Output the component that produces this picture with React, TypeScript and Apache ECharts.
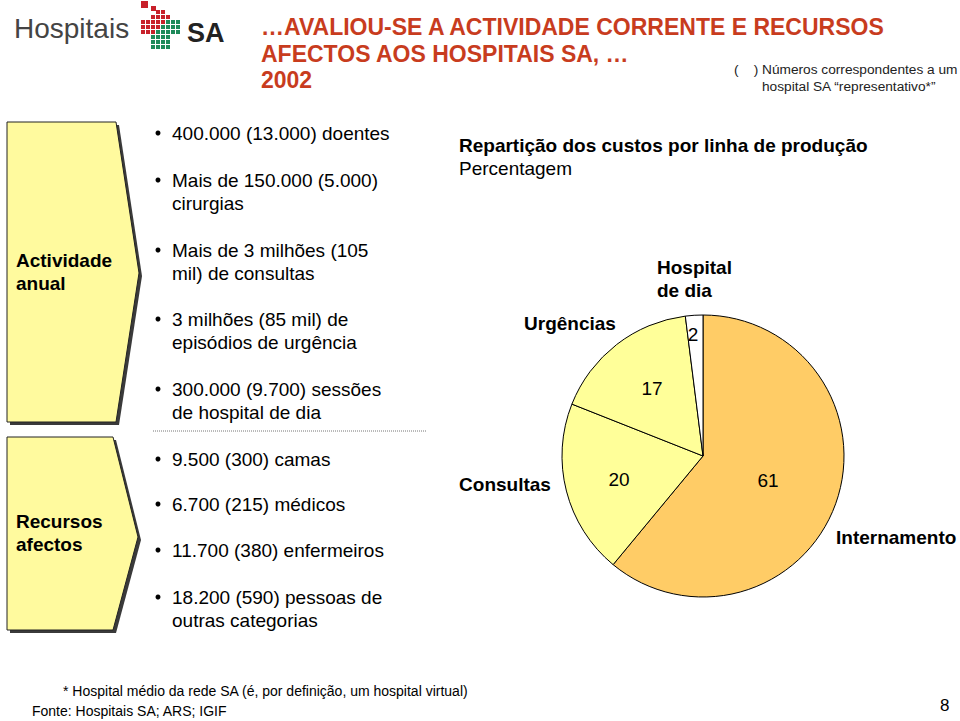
import React, { useEffect, useRef } from "react";
import * as echarts from "echarts";

// ---- Data ----
const pieNames = ["Internamento", "Consultas", "Urgências", "Hospital de dia"];
const pieValues = [61, 20, 17, 2];
const pieNameLabels = ["Internamento", "Consultas", "Urgências", "Hospital\nde dia"];

const titleLines = [
  "…AVALIOU-SE A ACTIVIDADE CORRENTE E RECURSOS",
  "AFECTOS AOS HOSPITAIS SA, …",
  "2002",
];
const chartTitle = "Repartição dos custos por linha de produção";
const chartSubtitle = "Percentagem";
const noteLines = ["Números correspondentes a um", "hospital SA “representativo*”"];
const activityItems = [
  "400.000 (13.000) doentes",
  "Mais de 150.000 (5.000)\ncirurgias",
  "Mais de 3 milhões (105\nmil) de consultas",
  "3 milhões (85 mil) de\nepisódios de urgência",
  "300.000 (9.700) sessões\nde hospital de dia",
];
const resourceItems = [
  "9.500 (300) camas",
  "6.700 (215) médicos",
  "11.700 (380) enfermeiros",
  "18.200 (590) pessoas de\noutras categorias",
];
const boxLabels = ["Actividade\nanual", "Recursos\nafectos"];
const footnote = "* Hospital médio da rede SA (é, por definição, um hospital virtual)";
const source = "Fonte: Hospitais SA; ARS; IGIF";
const pageNumber = "8";

// ---- Layout / style ----
const FONT = "'Liberation Sans', Arial, Helvetica, sans-serif";
const pieColors = ["#FFCC66", "#FFFF99", "#FFFF99", "#FFFFFF"];
const titleColor = "#C83C1E";
const activityY = [133, 180, 250, 319, 389];
const resourceY = [459, 504, 550, 597];
const valuePos = [
  [768, 480],
  [619, 479],
  [652, 388],
  [693, 334],
];
const namePos = [
  { x: 836, y: 537, align: "left" },
  { x: 505, y: 484, align: "center" },
  { x: 570, y: 323, align: "center" },
  { x: 657, y: 279, align: "left" },
];
const boxPolys = [
  [
    [7, 122],
    [116, 122],
    [139, 273],
    [116, 422],
    [7, 422],
  ],
  [
    [7, 437],
    [113, 437],
    [138, 537],
    [113, 630],
    [7, 630],
  ],
];
const boxTextY = [272, 533];

const logoPattern = [
  "...RR...",
  "..RRRR..",
  "RRRRRGGG",
  "RRRRGGGG",
  "RRRGGGGG",
  "..GGGG..",
  "..GGGG..",
  "..GGGG..",
];

function buildGraphic() {
  const g: any[] = [];
  // Logo
  g.push({
    type: "text",
    x: 14,
    y: 28,
    style: { text: "Hospitais", fontSize: 28, fontFamily: FONT, fill: "#444", verticalAlign: "middle" },
  });
  g.push({ type: "rect", shape: { x: 141, y: 1, width: 7, height: 7 }, style: { fill: "#C8202A" } });
  g.push({ type: "rect", shape: { x: 151, y: 6, width: 5, height: 5 }, style: { fill: "#C8202A" } });
  logoPattern.forEach((row, r) => {
    row.split("").forEach((c, k) => {
      if (c === ".") return;
      g.push({
        type: "rect",
        shape: { x: 141 + k * 5, y: 10 + r * 5, width: 4, height: 4 },
        style: { fill: c === "R" ? "#C8202A" : "#1E8A5A" },
      });
    });
  });
  g.push({
    type: "text",
    x: 187,
    y: 33,
    style: { text: "SA", fontSize: 27, fontWeight: "bold", fontFamily: FONT, fill: "#222", verticalAlign: "middle" },
  });

  // Title
  titleLines.forEach((t, i) => {
    g.push({
      type: "text",
      x: 261,
      y: 27 + i * 26.5,
      style: { text: t, fontSize: 23, fontWeight: "bold", fontFamily: FONT, fill: titleColor, verticalAlign: "middle" },
    });
  });

  // Note
  g.push({
    type: "text",
    x: 734,
    y: 69,
    style: { text: "(    )", fontSize: 13.7, fontFamily: FONT, fill: "#222", verticalAlign: "middle" },
  });
  noteLines.forEach((t, i) => {
    g.push({
      type: "text",
      x: 762,
      y: 69 + i * 17,
      style: { text: t, fontSize: 13.7, fontFamily: FONT, fill: "#222", verticalAlign: "middle" },
    });
  });

  // Boxes
  boxPolys.forEach((pts, i) => {
    g.push({
      type: "polygon",
      shape: { points: pts.map((p) => [p[0] + 3, p[1] + 3]) },
      style: { fill: "#3a3a3a" },
    });
    g.push({
      type: "polygon",
      shape: { points: pts },
      style: { fill: "#FFFA9E", stroke: "#222", lineWidth: 1 },
    });
    g.push({
      type: "text",
      x: 16,
      y: boxTextY[i],
      style: {
        text: boxLabels[i],
        fontSize: 19,
        fontWeight: "bold",
        fontFamily: FONT,
        fill: "#000",
        verticalAlign: "middle",
        lineHeight: 23,
      },
    });
  });

  // Bullets
  const addBullets = (items: string[], ys: number[]) => {
    items.forEach((t, i) => {
      g.push({ type: "circle", shape: { cx: 158, cy: ys[i], r: 2.5 }, style: { fill: "#000" } });
      g.push({
        type: "text",
        x: 172,
        y: ys[i] - 11.5,
        style: { text: t, fontSize: 19, fontFamily: FONT, fill: "#000", verticalAlign: "top", lineHeight: 23 },
      });
    });
  };
  addBullets(activityItems, activityY);
  addBullets(resourceItems, resourceY);

  // Dotted separator
  g.push({
    type: "line",
    shape: { x1: 153, y1: 431, x2: 426, y2: 431 },
    style: { stroke: "#777", lineWidth: 1, lineDash: [1, 1] },
  });

  // Pie title
  g.push({
    type: "text",
    x: 459,
    y: 145,
    style: { text: chartTitle, fontSize: 19, fontWeight: "bold", fontFamily: FONT, fill: "#000", verticalAlign: "middle" },
  });
  g.push({
    type: "text",
    x: 459,
    y: 168,
    style: { text: chartSubtitle, fontSize: 19, fontFamily: FONT, fill: "#000", verticalAlign: "middle" },
  });

  // Footer
  g.push({
    type: "text",
    x: 63,
    y: 691,
    style: { text: footnote, fontSize: 14, fontFamily: FONT, fill: "#000", verticalAlign: "middle" },
  });
  g.push({
    type: "text",
    x: 32,
    y: 711,
    style: { text: source, fontSize: 14, fontFamily: FONT, fill: "#000", verticalAlign: "middle" },
  });
  g.push({
    type: "text",
    x: 940,
    y: 705,
    style: { text: pageNumber, fontSize: 17, fontFamily: FONT, fill: "#000", verticalAlign: "middle" },
  });
  return g;
}

export default function App() {
  const ref = useRef<HTMLDivElement>(null);
  useEffect(() => {
    if (!ref.current) return;
    const chart = echarts.init(ref.current, undefined, { renderer: "svg" });
    const data = pieNames.map((n, i) => ({
      name: n,
      value: pieValues[i],
      itemStyle: { color: pieColors[i] },
    }));
    chart.setOption({
      animation: false,
      backgroundColor: "#fff",
      graphic: buildGraphic(),
      series: [
        {
          type: "pie",
          center: [703, 456],
          radius: 141,
          startAngle: 90,
          clockwise: true,
          silent: true,
          data,
          itemStyle: { borderColor: "#000", borderWidth: 1 },
          label: {
            show: true,
            position: "inside",
            formatter: (p: any) => String(p.value),
            fontSize: 19,
            fontFamily: FONT,
            color: "#000",
          },
          labelLine: { show: false },
          labelLayout: (p: any) => ({
            x: valuePos[p.dataIndex][0],
            y: valuePos[p.dataIndex][1],
            align: "center",
            verticalAlign: "middle",
          }),
        },
        {
          type: "pie",
          center: [703, 456],
          radius: 141,
          startAngle: 90,
          clockwise: true,
          silent: true,
          z: 1,
          data: pieNames.map((n, i) => ({ name: n, value: pieValues[i] })),
          itemStyle: { color: "rgba(0,0,0,0)", borderWidth: 0 },
          label: {
            show: true,
            position: "inside",
            overflow: "none",
            formatter: (p: any) => pieNameLabels[p.dataIndex],
            fontSize: 19,
            fontWeight: "bold",
            fontFamily: FONT,
            color: "#000",
            lineHeight: 23,
          },
          labelLine: { show: false },
          labelLayout: (p: any) => ({
            x: namePos[p.dataIndex].x,
            y: namePos[p.dataIndex].y,
            align: namePos[p.dataIndex].align,
            verticalAlign: "middle",
          }),
        },
      ],
    });
    return () => chart.dispose();
  }, []);
  return (
    <div
      ref={ref}
      style={{ position: "fixed", left: 0, top: 0, width: 960, height: 721, background: "#fff" }}
    />
  );
}
